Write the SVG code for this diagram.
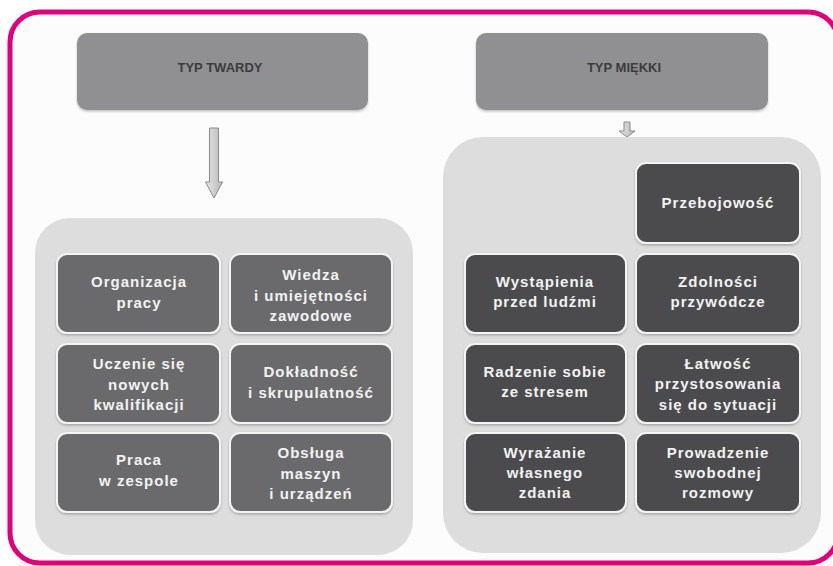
<svg xmlns="http://www.w3.org/2000/svg" width="833" height="566" viewBox="0 0 833 566">
<defs>
<linearGradient id="arrowGrad" x1="0" y1="0" x2="1" y2="0">
<stop offset="0" stop-color="#e4e4e4"/>
<stop offset="0.5" stop-color="#cfcfcf"/>
<stop offset="1" stop-color="#b8b8b8"/>
</linearGradient>
<filter id="sh" x="-10%" y="-10%" width="120%" height="130%">
<feDropShadow dx="0" dy="1.5" stdDeviation="1.2" flood-color="#000" flood-opacity="0.25"/>
</filter>
</defs>
<style>
.frame{fill:#fcfcfc;stroke:#e2007a;stroke-width:5}
.head{fill:#909092;filter:url(#sh)}
.headtxt{font-family:"Liberation Sans",Arial,sans-serif;font-weight:bold;font-size:13px;fill:#3c3c3c;text-anchor:middle}
.cont{fill:#dddddd}
.cellL{fill:#6b6b6d;stroke:#f4f4f4;stroke-width:2;filter:url(#sh)}
.cellR{fill:#4b4b4d;stroke:#f4f4f4;stroke-width:2;filter:url(#sh)}
.t{font-family:"Liberation Sans",Arial,sans-serif;font-weight:bold;font-size:15px;letter-spacing:1px;fill:#f2f2f2;text-anchor:middle}
.arrow{fill:url(#arrowGrad);stroke:#8a8a8a;stroke-width:1}
</style>
<rect class="frame" x="10" y="12" width="828" height="551" rx="30"/>

<g id="typ-twardy">
<rect class="head" x="77" y="33" width="291" height="77" rx="10"/>
<text class="headtxt" x="220" y="72">TYP TWARDY</text>
</g>
<g id="typ-miekki">
<rect class="head" x="476" y="33" width="292" height="77" rx="10"/>
<text class="headtxt" x="624" y="72">TYP MIĘKKI</text>
</g>

<g id="connectors">
<path class="arrow" d="M209.5,128 h9 v54 h4 l-8.5,16 l-8.5,-16 h4 z"/>
<path class="arrow" d="M624,122 h6 v9 h5 l-8,6 l-8,-6 h5 z"/>
</g>

<g id="container-twardy">
<rect class="cont" x="35" y="218" width="378" height="337" rx="35"/>
</g>
<g id="container-miekki">
<rect class="cont" x="443" y="137" width="378" height="416" rx="40"/>
</g>

<g id="organizacja">
<rect class="cellL" x="57" y="254" width="163" height="79" rx="10"/>
<text class="t" x="139" y="287">Organizacja</text>
<text class="t" x="139" y="308">pracy</text>
</g>
<g id="wiedza">
<rect class="cellL" x="230" y="254" width="162" height="79" rx="10"/>
<text class="t" x="311" y="280">Wiedza</text>
<text class="t" x="311" y="301">i umiejętności</text>
<text class="t" x="311" y="321">zawodowe</text>
</g>
<g id="uczenie">
<rect class="cellL" x="57" y="344" width="163" height="79" rx="10"/>
<text class="t" x="139" y="369">Uczenie się</text>
<text class="t" x="139" y="390">nowych</text>
<text class="t" x="139" y="410">kwalifikacji</text>
</g>
<g id="dokladnosc">
<rect class="cellL" x="230" y="344" width="162" height="79" rx="10"/>
<text class="t" x="311" y="377">Dokładność</text>
<text class="t" x="311" y="398">i skrupulatność</text>
</g>
<g id="praca">
<rect class="cellL" x="57" y="433" width="163" height="79" rx="10"/>
<text class="t" x="139" y="465">Praca</text>
<text class="t" x="139" y="486">w zespole</text>
</g>
<g id="obsluga">
<rect class="cellL" x="230" y="433" width="162" height="79" rx="10"/>
<text class="t" x="311" y="458">Obsługa</text>
<text class="t" x="311" y="479">maszyn</text>
<text class="t" x="311" y="499">i urządzeń</text>
</g>

<g id="przebojowosc">
<rect class="cellR" x="636" y="163" width="164" height="80" rx="10"/>
<text class="t" x="718" y="208">Przebojowość</text>
</g>
<g id="wystapienia">
<rect class="cellR" x="465" y="254" width="161" height="79" rx="10"/>
<text class="t" x="545" y="287">Wystąpienia</text>
<text class="t" x="545" y="307">przed ludźmi</text>
</g>
<g id="zdolnosci">
<rect class="cellR" x="636" y="254" width="164" height="79" rx="10"/>
<text class="t" x="718" y="287">Zdolności</text>
<text class="t" x="718" y="307">przywódcze</text>
</g>
<g id="radzenie">
<rect class="cellR" x="465" y="344" width="161" height="79" rx="10"/>
<text class="t" x="545" y="377">Radzenie sobie</text>
<text class="t" x="545" y="397">ze stresem</text>
</g>
<g id="latwosc">
<rect class="cellR" x="636" y="344" width="164" height="79" rx="10"/>
<text class="t" x="718" y="369">Łatwość</text>
<text class="t" x="718" y="389">przystosowania</text>
<text class="t" x="718" y="410">się do sytuacji</text>
</g>
<g id="wyrazanie">
<rect class="cellR" x="465" y="433" width="161" height="79" rx="10"/>
<text class="t" x="545" y="458">Wyrażanie</text>
<text class="t" x="545" y="478">własnego</text>
<text class="t" x="545" y="498">zdania</text>
</g>
<g id="prowadzenie">
<rect class="cellR" x="636" y="433" width="164" height="79" rx="10"/>
<text class="t" x="718" y="458">Prowadzenie</text>
<text class="t" x="718" y="478">swobodnej</text>
<text class="t" x="718" y="498">rozmowy</text>
</g>
</svg>
